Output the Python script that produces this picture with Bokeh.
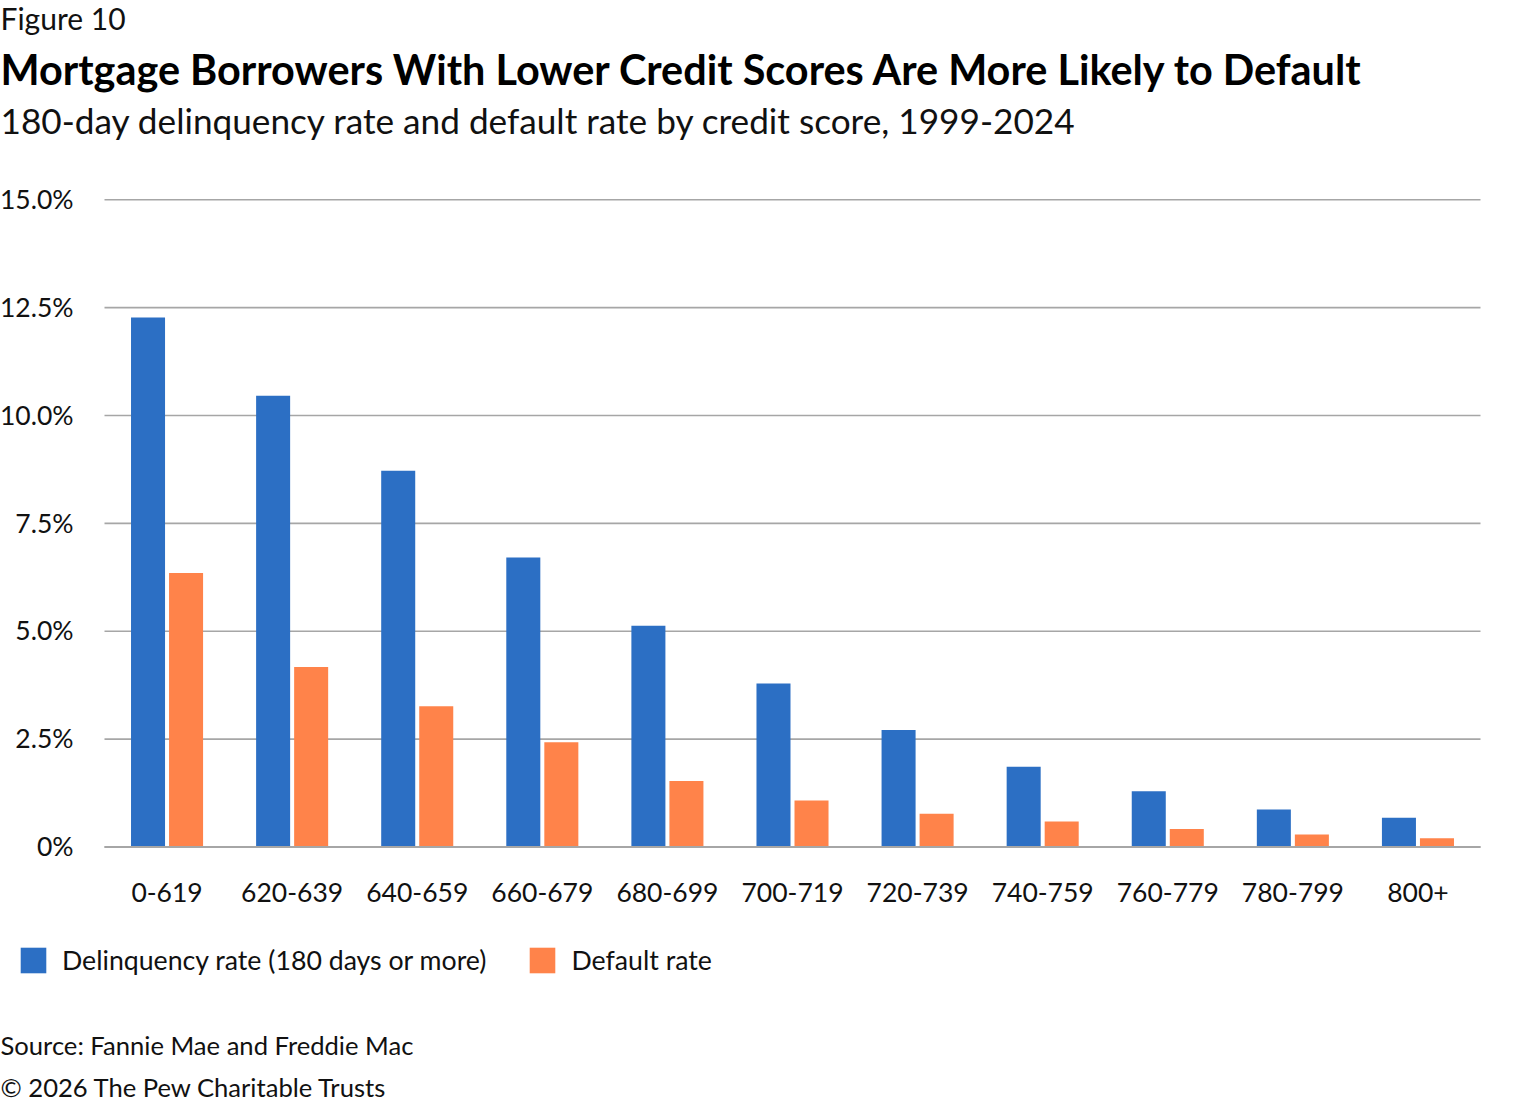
from bokeh.plotting import figure
from bokeh.models import (Range1d, Label, Legend, LegendItem, ColumnDataSource)
from bokeh.core.properties import value
from bokeh.transform import dodge
from bokeh.embed import file_html
from bokeh.resources import INLINE

# ---- data ----
categories = ["0-619", "620-639", "640-659", "660-679", "680-699", "700-719",
              "720-739", "740-759", "760-779", "780-799", "800+"]
delinquency = [12.27, 10.46, 8.72, 6.71, 5.13, 3.79, 2.71, 1.86, 1.29, 0.87, 0.68]
default_rate = [6.35, 4.17, 3.26, 2.43, 1.53, 1.08, 0.77, 0.59, 0.42, 0.29, 0.20]
y_ticks = [0, 2.5, 5.0, 7.5, 10.0, 12.5, 15.0]
y_tick_labels = ["0%", "2.5%", "5.0%", "7.5%", "10.0%", "12.5%", "15.0%"]
series_names = ["Delinquency rate (180 days or more)", "Default rate"]

FONT = "Lato"
BLUE = "#2C6FC4"
ORANGE = "#FF834A"
GRID = "#A6A6A6"
TXT = "#111111"

# ---- canvas / plot-area geometry (pixels) ----
W, H = 1504, 1104
PL, PR = 104, 1480          # plot area left / right
Y0_PX, PPU = 846.5, 43.15   # pixel row of 0 %, pixels per 1 %
BASE_SHIFT = 0.387          # renderer places "alphabetic" text ~0.39em lower

n = len(categories)
cat_px = (PR - PL) / n
x_start = -0.5 - PL / cat_px
x_end = x_start + W / cat_px
y_start = -(H - Y0_PX) / PPU
y_end = Y0_PX / PPU

p = figure(width=W, height=H, output_backend="svg", toolbar_location=None,
           x_range=Range1d(x_start, x_end), y_range=Range1d(y_start, y_end),
           min_border=0, x_axis_type=None, y_axis_type=None)
p.outline_line_color = None
p.xgrid.visible = False
p.ygrid.visible = False
p.background_fill_color = "white"

src = ColumnDataSource(dict(x=list(range(n)), cat=categories,
                            d=delinquency, r=default_rate))
grid_src = ColumnDataSource(dict(y=y_ticks, lab=y_tick_labels,
                                 x0=[-0.5] * len(y_ticks),
                                 x1=[n - 0.5] * len(y_ticks)))

# horizontal grid lines (behind bars)
p.segment(x0="x0", x1="x1", y0="y", y1="y", source=grid_src,
          line_color=GRID, line_width=1.6)

# bars
r1 = p.vbar(x=dodge("x", -0.152), top="d", bottom=0, width=0.272, source=src,
            fill_color=BLUE, line_color=None)
r2 = p.vbar(x=dodge("x", 0.152), top="r", bottom=0, width=0.272, source=src,
            fill_color=ORANGE, line_color=None)

# baseline on top of the bars
p.segment(x0=[-0.5], x1=[n - 0.5], y0=[y_ticks[0]], y1=[y_ticks[0]],
          line_color=GRID, line_width=2)

TICK_SIZE = 26.5
# y tick labels
p.text(x="x0", y="y", text="lab", source=grid_src, x_offset=-31,
       y_offset=9.5 - BASE_SHIFT * TICK_SIZE,
       text_font=value(FONT), text_font_size=value(f"{TICK_SIZE}px"), text_color=TXT,
       text_align="right", text_baseline="alphabetic")

# x category labels
p.text(x="x", y=0, text="cat", source=src, y_offset=55.5 - BASE_SHIFT * TICK_SIZE,
       text_font=value(FONT), text_font_size=value(f"{TICK_SIZE}px"), text_color=TXT,
       text_align="center", text_baseline="alphabetic")

# legend
legend = Legend(items=[LegendItem(label=series_names[0], renderers=[r1]),
                       LegendItem(label=series_names[1], renderers=[r2])],
                orientation="horizontal", location=(17, H - 976),
                glyph_width=32, glyph_height=32, label_standoff=13, spacing=40,
                padding=0, margin=0, border_line_color=None,
                background_fill_alpha=0, label_text_font=FONT,
                label_text_font_size="26.7px", label_text_color=TXT)
p.add_layout(legend)


def add_text(text, x, y_baseline, size, bold=False, color=TXT):
    y = y_baseline - BASE_SHIFT * size
    p.add_layout(Label(x=x, y=H - y, x_units="screen", y_units="screen",
                       text=text, text_font=FONT, text_font_size=f"{size}px",
                       text_font_style="bold" if bold else "normal",
                       text_color=color, text_align="left",
                       text_baseline="alphabetic"))


add_text("Figure 10", 0, 29.5, 30)
add_text("Mortgage Borrowers With Lower Credit Scores Are More Likely to Default",
         0, 85, 41.4, bold=True, color="#000000")
add_text("180-day delinquency rate and default rate by credit score, 1999-2024",
         0, 133.5, 35.2)
add_text("Source: Fannie Mae and Freddie Mac", 0, 1054, 25.6)
add_text("\u00a9 2026 The Pew Charitable Trusts", 0, 1096, 25.6)

open("out.html", "w").write(file_html(p, INLINE))
